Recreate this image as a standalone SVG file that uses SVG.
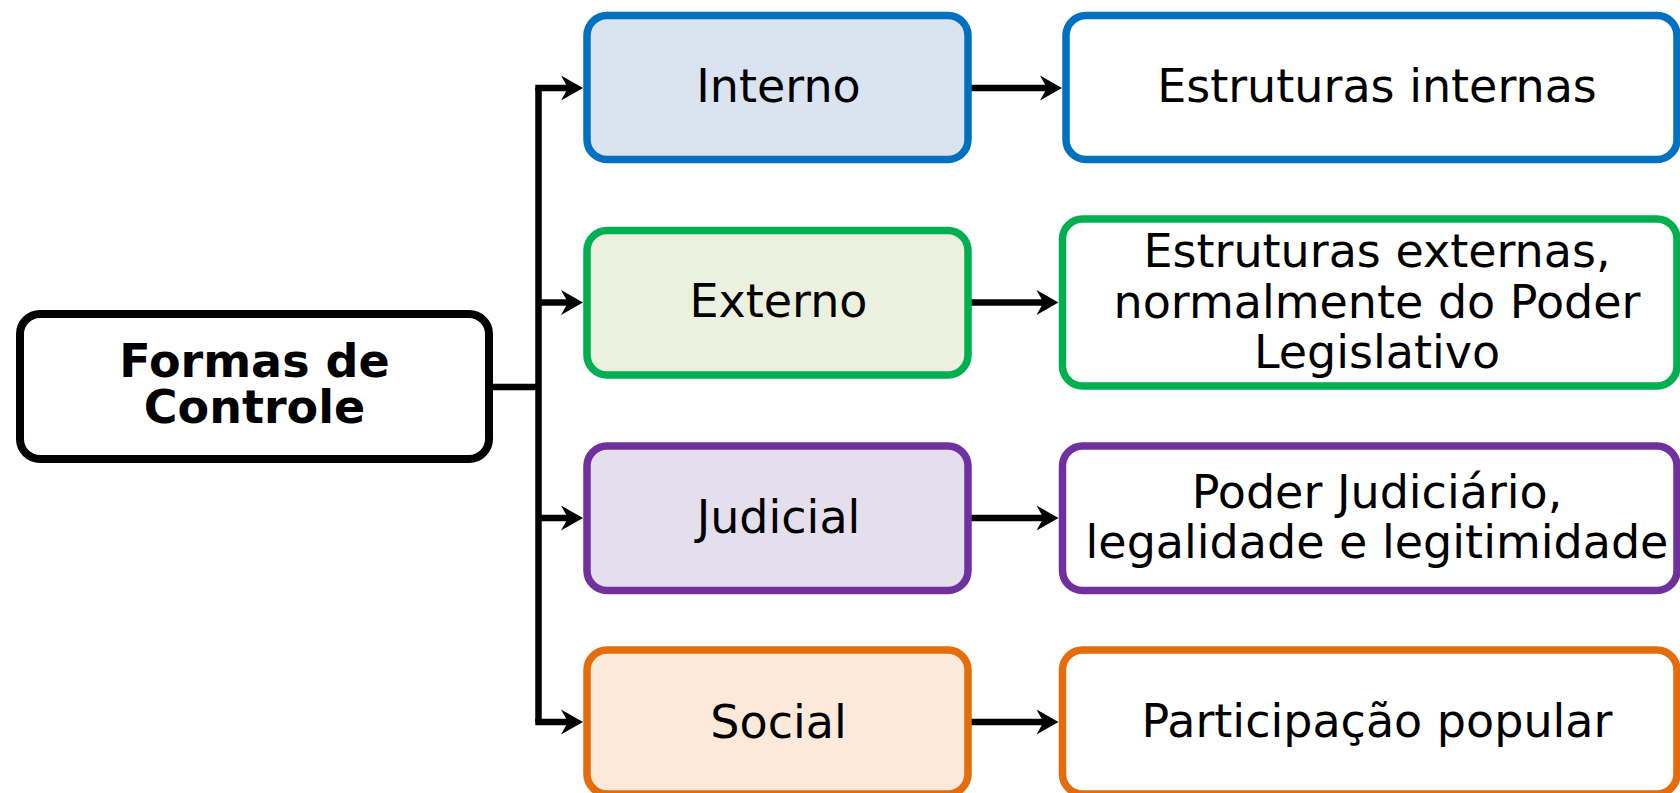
<svg xmlns="http://www.w3.org/2000/svg" width="1680" height="793" viewBox="0 0 1680 793">
<style>
text{font-family:"DejaVu Sans","Liberation Sans",sans-serif;font-size:46px;fill:#000;text-anchor:middle}
.root text{font-weight:bold}
.box{stroke-width:7.5}
.blue{stroke:#0070C0}
.green{stroke:#00B050}
.purple{stroke:#7030A0}
.orange{stroke:#E46C0A}
.conn{fill:none;stroke:#000;stroke-width:6.5;stroke-linejoin:miter}
</style>
<defs>
<marker id="arr" markerUnits="userSpaceOnUse" markerWidth="23" markerHeight="26" refX="10" refY="12.5" orient="auto" overflow="visible">
<path d="M0,0 L22,12.5 L0,25 L7,12.5 Z" fill="#000"/>
</marker>
</defs>
<rect width="1680" height="793" fill="#fff"/>

<g id="connectors">
<path class="conn" d="M489,387 H538.5"/>
<path class="conn" d="M538.5,722 V88"/>
<path class="conn" d="M535.25,88 H571" marker-end="url(#arr)"/>
<path class="conn" d="M538.5,302.5 H571" marker-end="url(#arr)"/>
<path class="conn" d="M538.5,518 H571" marker-end="url(#arr)"/>
<path class="conn" d="M535.25,722 H571" marker-end="url(#arr)"/>
<path class="conn" d="M971,88 H1050" marker-end="url(#arr)"/>
<path class="conn" d="M971,302.5 H1046.5" marker-end="url(#arr)"/>
<path class="conn" d="M971,518 H1046.5" marker-end="url(#arr)"/>
<path class="conn" d="M971,722 H1046.5" marker-end="url(#arr)"/>
</g>

<g id="root" class="root">
<rect x="20" y="314" width="469" height="145" rx="20" fill="#fff" stroke="#000" stroke-width="8"/>
<text x="254.5" y="377">Formas de</text>
<text x="254.5" y="423">Controle</text>
</g>

<g id="interno">
<rect class="box blue" x="587" y="15.5" width="381" height="144" rx="20" fill="#DAE3F0"/>
<text x="778.5" y="102">Interno</text>
</g>
<g id="externo">
<rect class="box green" x="587" y="230.5" width="381" height="144.5" rx="20" fill="#EBF0DF"/>
<text x="778.5" y="317">Externo</text>
</g>
<g id="judicial">
<rect class="box purple" x="587" y="446" width="381" height="144.5" rx="20" fill="#E4DFEC"/>
<text x="778.5" y="533">Judicial</text>
</g>
<g id="social">
<rect class="box orange" x="587" y="650" width="381" height="144" rx="20" fill="#FDE9D9"/>
<text x="778.5" y="738">Social</text>
</g>

<g id="estruturas-internas">
<rect class="box blue" x="1066" y="15.5" width="611" height="144" rx="20" fill="#fff"/>
<text x="1377" y="102">Estruturas internas</text>
</g>
<g id="estruturas-externas">
<rect class="box green" x="1062.5" y="219" width="614.5" height="167" rx="20" fill="#fff"/>
<text x="1377" y="267">Estruturas externas,</text>
<text x="1377" y="317.5">normalmente do Poder</text>
<text x="1377" y="368">Legislativo</text>
</g>
<g id="poder-judiciario">
<rect class="box purple" x="1062.5" y="446" width="614.5" height="144.5" rx="20" fill="#fff"/>
<text x="1377" y="508">Poder Judiciário,</text>
<text x="1377" y="558">legalidade e legitimidade</text>
</g>
<g id="participacao">
<rect class="box orange" x="1062.5" y="650" width="614.5" height="144" rx="20" fill="#fff"/>
<text x="1377" y="737">Participação popular</text>
</g>
</svg>
